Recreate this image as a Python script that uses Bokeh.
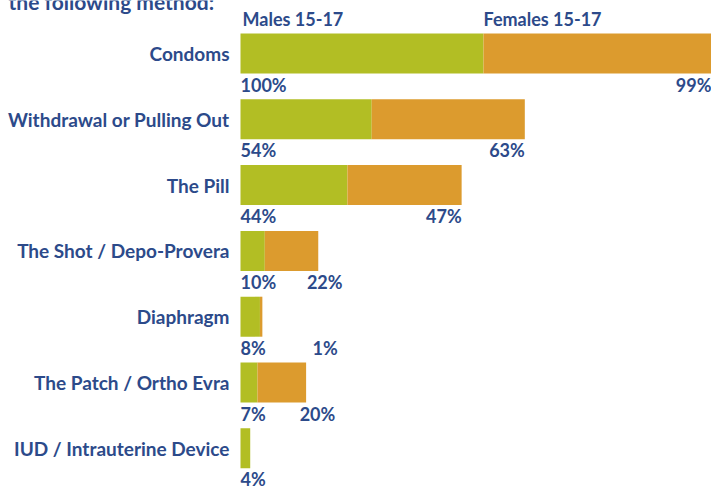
from bokeh.plotting import figure
from bokeh.models import Range1d, ColumnDataSource
from bokeh.core.properties import value
from bokeh.embed import file_html
from bokeh.resources import INLINE

# ---- data ----
methods = ["Condoms", "Withdrawal or Pulling Out", "The Pill",
           "The Shot / Depo-Provera", "Diaphragm", "The Patch / Ortho Evra",
           "IUD / Intrauterine Device"]
males = [100, 54, 44, 10, 8, 7, 4]
females = [99, 63, 47, 22, 1, 20, 0]
series_names = ["Males 15-17", "Females 15-17"]
title_text = "the following method:"

GREEN = "#b2be24"
ORANGE = "#dc9b2e"
BLUE = "#2c4a8a"
FONT = value("Lato")

W, H = 711, 489
px_per_unit = 2.43
zero_x = 240
row_px = 65.8
first_row = 53

x0 = -zero_x / px_per_unit
x1 = (W - zero_x) / px_per_unit

p = figure(width=W, height=H, output_backend="svg", toolbar_location=None,
           x_range=Range1d(x0, x1),
           y_range=Range1d((H - first_row) / row_px, -first_row / row_px),
           min_border=0)
p.axis.visible = False
p.grid.visible = False
p.outline_line_color = None
p.background_fill_color = "white"
p.border_fill_color = "white"

idx = list(range(len(methods)))
totals = [m + f for m, f in zip(males, females)]
src = ColumnDataSource(dict(y=idx, m=males, t=totals, zero=[0] * len(idx)))

bar_h = 40 / row_px
p.hbar(y="y", left="zero", right="m", height=bar_h, source=src,
       fill_color=GREEN, line_color=None)
p.hbar(y="y", left="m", right="t", height=bar_h, source=src,
       fill_color=ORANGE, line_color=None)

# category labels
p.text(x=[0] * len(idx), y=idx, text=methods, x_offset=-11,
       text_align="right", text_baseline="middle", text_font=FONT,
       text_font_style="bold", text_font_size="19px", text_color=BLUE)

# value labels
lab_dy = 31 / row_px
p.text(x=[0] * len(idx), y=[i + lab_dy for i in idx],
       text=[f"{v}%" for v in males], text_align="left",
       text_baseline="middle", text_font=FONT, text_font_style="bold",
       text_font_size="18px", text_color=BLUE)
fi = [i for i in idx if females[i] > 0]
p.text(x=[min(max(totals[i], males[i] + 32), x1) for i in fi],
       y=[i + lab_dy for i in fi],
       text=[f"{females[i]}%" for i in fi], text_align="right",
       text_baseline="middle", text_font=FONT, text_font_style="bold",
       text_font_size="18px", text_color=BLUE)

# series labels above first bar
leg_y = (18 - first_row) / row_px
p.text(x=[0, males[0]], y=[leg_y, leg_y], text=series_names,
       x_offset=[2, 0], text_align="left", text_baseline="middle",
       text_font=FONT, text_font_style="bold", text_font_size="18px",
       text_color=BLUE)

# title (cut off at top, as in the source image)
p.text(x=[x0 + 8 / px_per_unit], y=[(1 - first_row) / row_px], text=[title_text],
       text_align="left", text_baseline="middle", text_font=FONT,
       text_font_style="bold", text_font_size="21px", text_color=BLUE)

open("out.html", "w").write(file_html(p, INLINE))
